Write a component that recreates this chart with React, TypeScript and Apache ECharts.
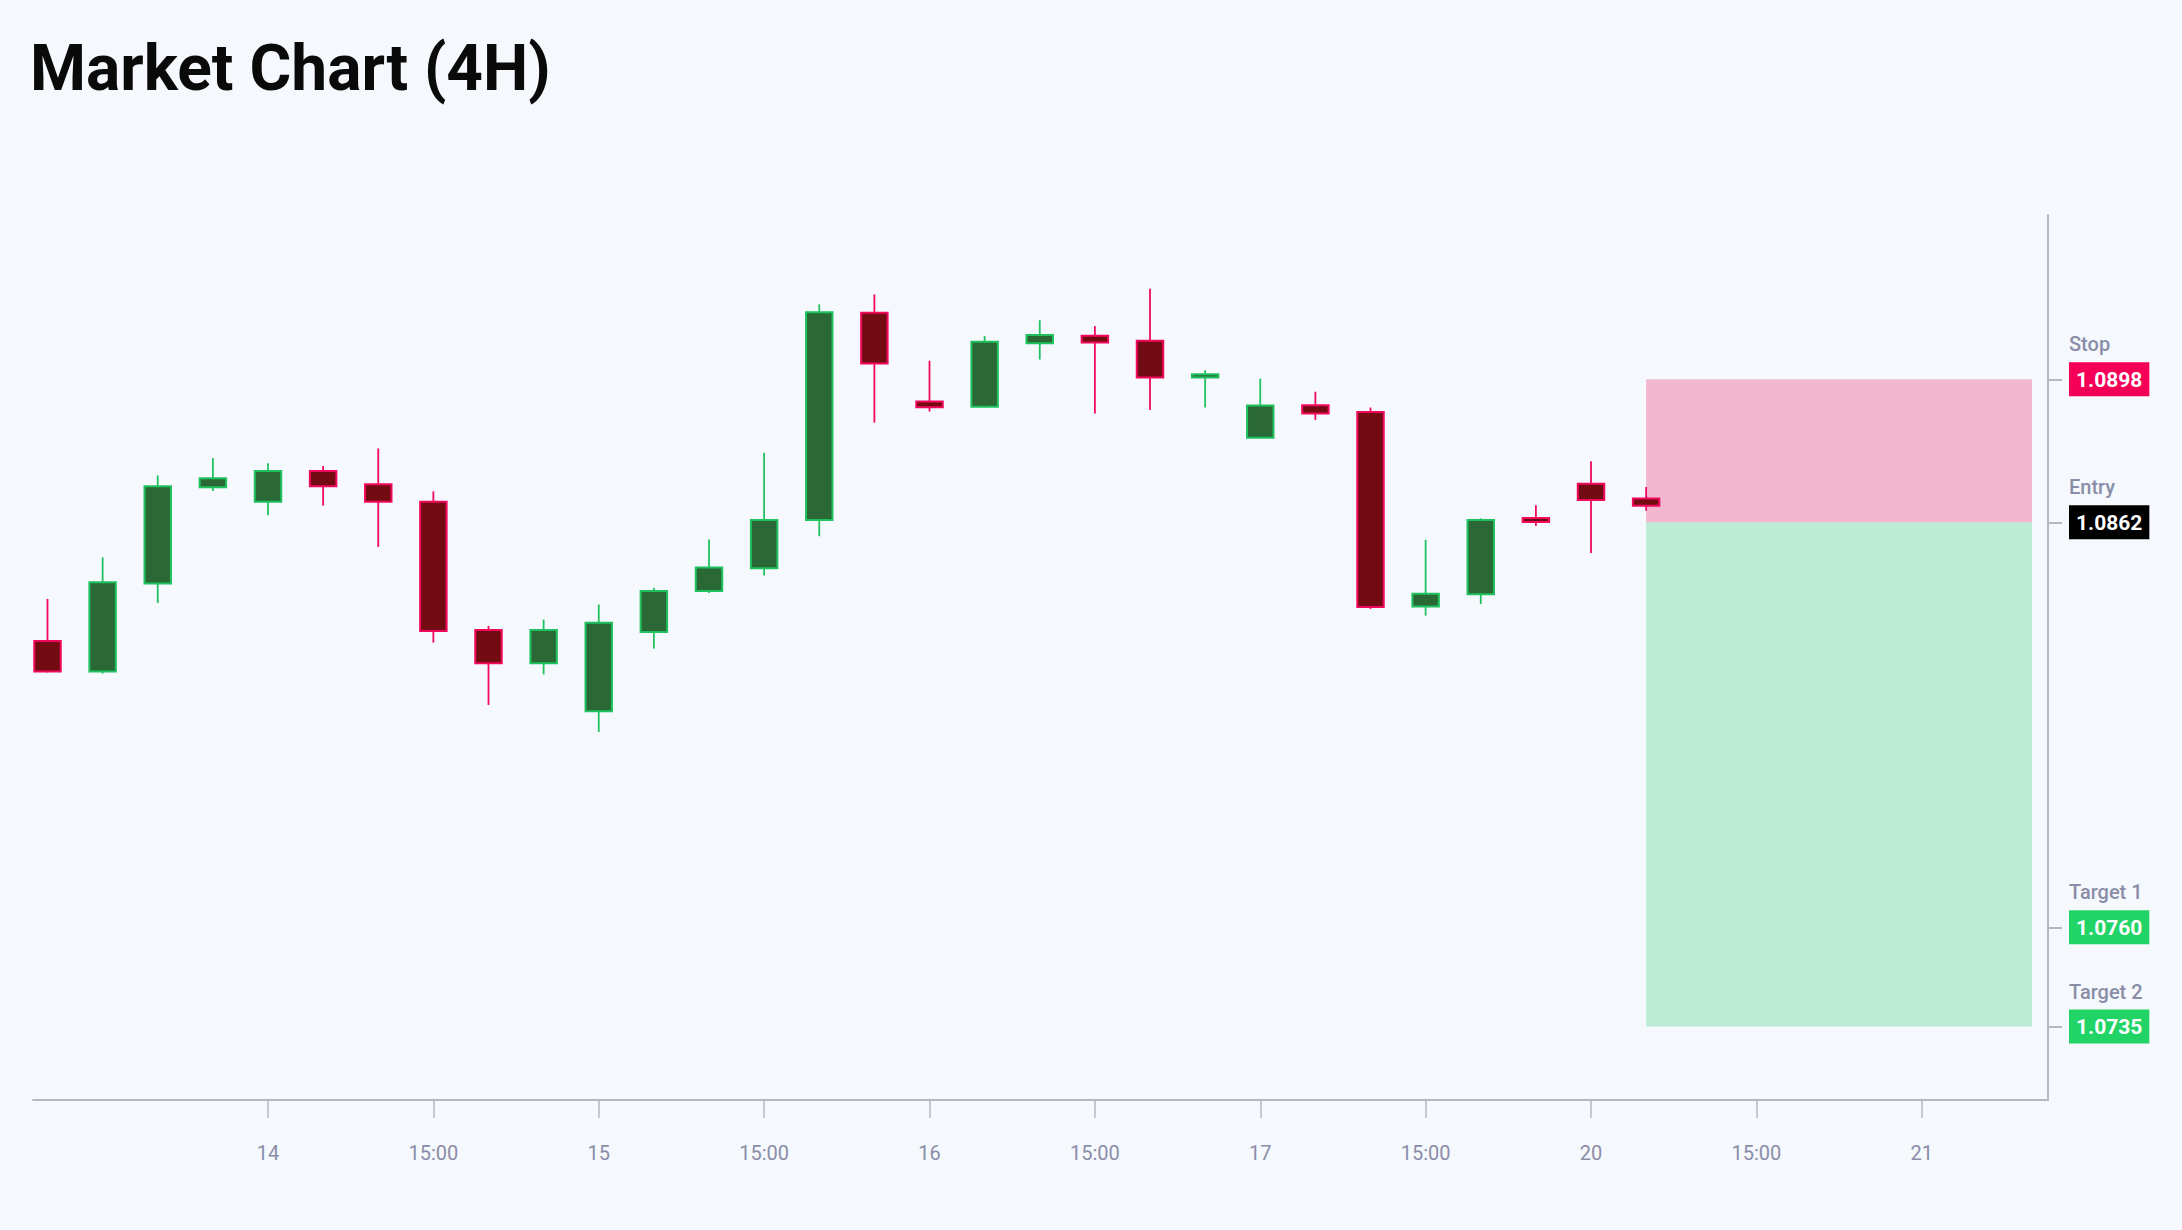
import React, { useEffect, useRef } from "react";
import * as echarts from "echarts";

// ---- Data ----
const opens = [1.08321, 1.08244, 1.08466, 1.08708, 1.08672, 1.08749, 1.08716, 1.08672, 1.08349, 1.08265, 1.08144, 1.08344, 1.08447, 1.08504, 1.08626, 1.09148, 1.08924, 1.08911, 1.09071, 1.0909, 1.09077, 1.08985, 1.08833, 1.08915, 1.08898, 1.08408, 1.08439, 1.08631, 1.08717, 1.0868];
const closes = [1.08244, 1.08469, 1.08711, 1.08731, 1.08749, 1.08711, 1.08672, 1.08346, 1.08265, 1.08349, 1.08367, 1.08447, 1.08506, 1.08626, 1.09149, 1.0902, 1.0891, 1.09075, 1.09092, 1.09073, 1.08985, 1.08993, 1.08914, 1.08894, 1.08407, 1.0844, 1.08626, 1.08621, 1.08676, 1.08662];
const lows = [1.08242, 1.08239, 1.08417, 1.08699, 1.08638, 1.08662, 1.08558, 1.08317, 1.0816, 1.08237, 1.08092, 1.08302, 1.08442, 1.08486, 1.08585, 1.08871, 1.08899, 1.08909, 1.0903, 1.08894, 1.08903, 1.08909, 1.08832, 1.08878, 1.08402, 1.08385, 1.08414, 1.08611, 1.08543, 1.08649];
const highs = [1.08427, 1.08532, 1.08738, 1.08782, 1.08769, 1.08762, 1.08806, 1.08698, 1.08359, 1.08375, 1.08413, 1.08455, 1.08577, 1.08795, 1.09169, 1.09194, 1.09027, 1.09089, 1.09129, 1.09114, 1.09208, 1.09003, 1.08982, 1.08949, 1.08909, 1.08576, 1.0863, 1.08663, 1.08774, 1.08709];

const xTickIndex = [4, 7, 10, 13, 16, 19, 22, 25, 28, 31, 34];
const xTickLabels = ["14", "15:00", "15", "15:00", "16", "15:00", "17", "15:00", "20", "15:00", "21"];

const levelNames = ["Stop", "Entry", "Target 1", "Target 2"];
const levelValues = [1.0898, 1.0862, 1.076, 1.0735];
const levelKeys = ["stop", "entry", "tgt", "tgt"];

const zoneStart = 29;
const zoneEnd = 36;

const xMin = -0.263;
const xMax = 36.29;
const yMin = 1.07165;
const yMax = 1.09394;

// ---- Styles ----
const BG = "#F5F8FC";
const UP_BODY = "#2A6836";
const UP_BORDER = "#1FC25F";
const DOWN_BODY = "#730B13";
const DOWN_BORDER = "#F2085C";
const AXIS = "#B4B8C3";
const LABEL = "#8A8DA8";
const FONT = "Roboto, 'Noto Sans', sans-serif";

export default function App() {
  const ref = useRef<HTMLDivElement>(null);

  useEffect(() => {
    document.body.style.margin = "0";
    if (!ref.current) return;
    const chart = echarts.init(ref.current, null, { renderer: "svg" });

    const candleData = opens.map((o, i) => [i, o, closes[i], lows[i], highs[i]]);

    const option: any = {
      animation: false,
      backgroundColor: BG,
      textStyle: { fontFamily: FONT },
      title: {
        text: "Market Chart (4H)",
        left: 25,
        top: 31,
        textStyle: { fontSize: 64, fontWeight: 700, color: "#0A0A0A", fontFamily: FONT },
      },
      grid: { left: 33, right: 134, top: 215, bottom: 130, containLabel: false },
      xAxis: {
        type: "value",
        min: xMin,
        max: xMax,
        splitLine: { show: false },
        axisLine: { show: true, onZero: false, lineStyle: { color: AXIS, width: 2 } },
        axisTick: { show: true, length: 18, customValues: xTickIndex, lineStyle: { color: AXIS, width: 1.5 } },
        axisLabel: {
          customValues: xTickIndex,
          margin: 43,
          color: LABEL,
          fontSize: 20,
          fontFamily: FONT,
          formatter: (v: number) => {
            const k = xTickIndex.indexOf(Math.round(v));
            return k >= 0 ? xTickLabels[k] : "";
          },
        },
      },
      yAxis: {
        type: "value",
        position: "right",
        min: yMin,
        max: yMax,
        splitLine: { show: false },
        axisLine: { show: true, onZero: false, lineStyle: { color: AXIS, width: 2 } },
        axisTick: { show: true, length: 14, customValues: levelValues, lineStyle: { color: AXIS, width: 2 } },
        axisLabel: {
          customValues: levelValues,
          margin: 21,
          formatter: (v: number) => {
            let best = 0;
            levelValues.forEach((lv, k) => {
              if (Math.abs(lv - v) < Math.abs(levelValues[best] - v)) best = k;
            });
            return `{name|${levelNames[best]}}\n{${levelKeys[best]}|${levelValues[best].toFixed(4)}}\n{sp| }`;
          },
          rich: {
            name: { fontSize: 20, fontWeight: 500, color: LABEL, lineHeight: 48, fontFamily: FONT },
            stop: { fontSize: 21, fontWeight: 700, color: "#FFFFFF", backgroundColor: "#F50057", padding: [7, 7, 6, 7], lineHeight: 22, fontFamily: FONT },
            entry: { fontSize: 21, fontWeight: 700, color: "#FFFFFF", backgroundColor: "#000000", padding: [7, 7, 6, 7], lineHeight: 22, fontFamily: FONT },
            tgt: { fontSize: 21, fontWeight: 700, color: "#FFFFFF", backgroundColor: "#22D466", padding: [7, 7, 6, 7], lineHeight: 22, fontFamily: FONT },
            sp: { fontSize: 1, lineHeight: 48 },
          },
        },
      },
      series: [
        {
          type: "custom",
          z: 2,
          clip: false,
          encode: { x: 0, y: [1, 2, 3, 4] },
          data: candleData,
          renderItem: (params: any, api: any) => {
            const i = api.value(0);
            const o = api.value(1);
            const c = api.value(2);
            const l = api.value(3);
            const h = api.value(4);
            const up = c >= o;
            const pH = api.coord([i, h]);
            const pL = api.coord([i, l]);
            const pO = api.coord([i, o]);
            const pC = api.coord([i, c]);
            const band = api.size([1, 0])[0];
            const w = band * 0.48;
            const top = Math.min(pO[1], pC[1]);
            const bot = Math.max(pO[1], pC[1]);
            const hh = Math.max(bot - top, 1.5);
            const border = up ? UP_BORDER : DOWN_BORDER;
            const body = up ? UP_BODY : DOWN_BODY;
            return {
              type: "group",
              children: [
                {
                  type: "line",
                  shape: { x1: pH[0], y1: pH[1], x2: pL[0], y2: pL[1] },
                  style: { stroke: border, lineWidth: 1.8 },
                },
                {
                  type: "rect",
                  shape: { x: pO[0] - w / 2, y: top, width: w, height: hh },
                  style: { fill: body, stroke: border, lineWidth: 2 },
                },
              ],
            };
          },
        },
        {
          type: "line",
          z: 5,
          data: [],
          silent: true,
          markArea: {
            silent: true,
            data: [
              [
                { xAxis: zoneStart, yAxis: levelValues[0], itemStyle: { color: "rgba(242,10,90,0.27)" } },
                { xAxis: zoneEnd, yAxis: levelValues[1] },
              ],
              [
                { xAxis: zoneStart, yAxis: levelValues[1], itemStyle: { color: "rgba(40,205,110,0.28)" } },
                { xAxis: zoneEnd, yAxis: levelValues[3] },
              ],
            ],
          },
        },
      ],
    };

    chart.setOption(option);
    return () => chart.dispose();
  }, []);

  return (
    <div
      ref={ref}
      style={{ position: "fixed", left: 0, top: 0, width: "2182px", height: "1230px", background: BG }}
    />
  );
}
